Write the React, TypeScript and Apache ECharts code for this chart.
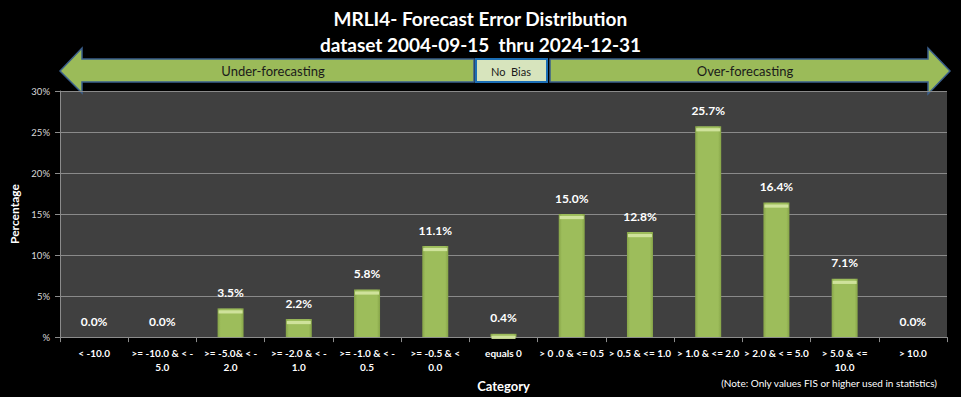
import React, { useEffect, useRef } from "react";
import * as echarts from "echarts";

const categories = [
  "< -10.0",
  ">= -10.0 & < -\n5.0",
  ">= -5.0& < -\n2.0",
  ">= -2.0 & < -\n1.0",
  ">= -1.0 & < -\n0.5",
  ">= -0.5 & <\n0.0",
  "equals 0",
  "> 0 .0 & <= 0.5",
  "> 0.5 & <= 1.0",
  "> 1.0 & <= 2.0",
  "> 2.0 & < = 5.0",
  "> 5.0 & <=\n10.0",
  "> 10.0",
];
const percentages = [0.0, 0.0, 3.5, 2.2, 5.8, 11.1, 0.4, 15.0, 12.8, 25.7, 16.4, 7.1, 0.0];
const titleLines = ["MRLI4- Forecast Error Distribution", "dataset 2004-09-15  thru 2024-12-31"];
const FONT = "Lato, 'Open Sans', sans-serif";

export default function App() {
  const ref = useRef<HTMLDivElement>(null);
  useEffect(() => {
    document.body.style.margin = "0";
    document.body.style.background = "#000";
    const chart = echarts.init(ref.current!, null, { renderer: "svg" });
    const green = "#9BBB59";
    const arrowStroke = "#3A5F8C";
    const option: any = {
      animation: false,
      backgroundColor: "#000000",
      textStyle: { fontFamily: FONT },
      grid: { left: 60, right: 14, top: 91, bottom: 57, backgroundColor: "#404040", show: true, borderWidth: 0 },
      xAxis: {
        type: "category",
        data: categories,
        name: "Category",
        nameLocation: "middle",
        nameGap: 38,
        nameTextStyle: { color: "#fff", fontSize: 13, fontWeight: "bold", fontFamily: FONT },
        axisLine: { lineStyle: { color: "#8C8C8C", width: 1 } },
        axisTick: { show: true, length: 5, lineStyle: { color: "#8C8C8C" } },
        axisLabel: { color: "#fff", fontSize: 10, fontWeight: "bold", interval: 0, margin: 9, lineHeight: 14, fontFamily: FONT },
      },
      yAxis: {
        type: "value",
        min: 0,
        max: 30,
        interval: 5,
        name: "Percentage",
        nameLocation: "middle",
        nameGap: 38,
        nameTextStyle: { color: "#fff", fontSize: 12, fontWeight: "bold", fontFamily: FONT },
        axisLine: { show: true, lineStyle: { color: "#8C8C8C" } },
        axisTick: { show: true, length: 5, lineStyle: { color: "#8C8C8C" } },
        splitLine: { lineStyle: { color: "#8A8A8A", width: 1 } },
        axisLabel: {
          color: "#D9D9D9",
          fontSize: 9.5,
          margin: 10,
          fontFamily: FONT,
          formatter: (v: number) => (v === 0 ? "%" : v + "%"),
        },
      },
      series: [
        {
          type: "bar",
          data: percentages,
          barWidth: 26,
          itemStyle: {
            color: {
              type: "linear", x: 0, y: 0, x2: 1, y2: 0,
              colorStops: [
                { offset: 0, color: "#86A448" },
                { offset: 0.12, color: "#9DBD5B" },
                { offset: 0.88, color: "#9DBD5B" },
                { offset: 1, color: "#86A448" },
              ],
            },
          },
          label: {
            show: true,
            position: "top",
            distance: 10,
            color: "#fff",
            fontSize: 12,
            fontWeight: "bold",
            fontFamily: FONT,
            formatter: (p: any) => p.value.toFixed(1) + "%",
          },
        },
        {
          type: "pictorialBar",
          data: percentages.map((v) => (v > 0 ? v : null)),
          symbol: "rect",
          symbolSize: [24, 3],
          symbolPosition: "end",
          symbolOffset: [0, 2],
          barGap: "-100%",
          silent: true,
          z: 3,
          itemStyle: { color: "#CFE29B" },
        },
      ],
      graphic: [
        {
          type: "text", left: "center", top: 9,
          style: { text: titleLines[0], fill: "#fff", font: `bold 19px ${FONT}` },
        },
        {
          type: "text", left: "center", top: 35,
          style: { text: titleLines[1], fill: "#fff", font: `bold 19px ${FONT}` },
        },
        {
          type: "polygon",
          shape: { points: [[60, 71], [82, 48], [82, 59], [474, 59], [474, 82], [82, 82], [82, 93]] },
          style: { fill: green, stroke: arrowStroke, lineWidth: 1.5 },
        },
        {
          type: "polygon",
          shape: { points: [[550, 59], [928, 59], [928, 48], [950, 71], [928, 94], [928, 82], [550, 82]] },
          style: { fill: green, stroke: arrowStroke, lineWidth: 1.5 },
        },
        {
          type: "rect",
          shape: { x: 476, y: 59, width: 71, height: 23 },
          style: { fill: "#D7E4BD", stroke: "#1C6EB5", lineWidth: 2 },
        },
        {
          type: "text", x: 273, y: 71,
          style: { text: "Under-forecasting", fill: "#1a1a1a", font: `13px ${FONT}`, align: "center", verticalAlign: "middle" },
        },
        {
          type: "text", x: 511, y: 71,
          style: { text: "No  Bias", fill: "#1a1a1a", font: `11px ${FONT}`, align: "center", verticalAlign: "middle" },
        },
        {
          type: "text", x: 745, y: 71,
          style: { text: "Over-forecasting", fill: "#1a1a1a", font: `13px ${FONT}`, align: "center", verticalAlign: "middle" },
        },
        {
          type: "text", x: 937, y: 383,
          style: { text: "(Note: Only values FIS or higher used in statistics)", fill: "#fff", font: `10px ${FONT}`, align: "right", verticalAlign: "middle" },
        },
      ],
    };
    chart.setOption(option);
    return () => chart.dispose();
  }, []);
  return <div ref={ref} style={{ position: "absolute", left: 0, top: 0, width: 961, height: 397 }} />;
}
